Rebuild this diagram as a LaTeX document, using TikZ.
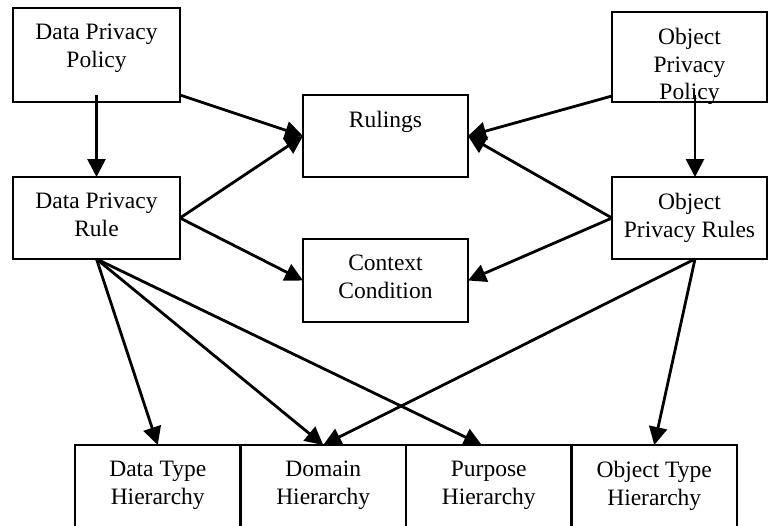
\documentclass[tikz,border=0pt]{standalone}
\usepackage{fontspec}
\setmainfont{Liberation Serif}
\usetikzlibrary{positioning, arrows.meta}

\begin{document}
\begin{tikzpicture}[x=1pt, y=-1pt]
% Styles
\tikzstyle{box} = [rectangle, draw=black, line width=2.8pt, outer sep=0pt, inner sep=0pt, minimum width=167pt, minimum height=82pt]
\tikzstyle{txt} = [anchor=north, yshift=-16pt, inner sep=0pt, align=center, font=\fontsize{23.5pt}{27.5pt}\selectfont]
\tikzstyle{arrow} = [line width=2.8pt, -{Triangle[length=18pt, width=18pt]}]

\useasboundingbox (0,0) rectangle (768,525);
\clip (0,0) rectangle (768,525);

\node (dpp) [box, minimum height=94pt, label={[txt]north:Data Privacy\\Policy}] at (96.5,55) {};
\node (dpr) [box, below=75pt of dpp, label={[txt]north:Data Privacy\\Rule}] {};
\node (rulings) [box, minimum width=165pt, above right=0pt and 123pt of dpr.north east, label={[txt]north:Rulings}] {};
\node (context) [box, minimum width=165pt, minimum height=83pt, below=62pt of rulings, label={[txt]north:Context\\Condition}] {};
\node (opr) [box, minimum width=155pt, below right=0pt and 144pt of rulings.south east, label={[txt]north:Object\\Privacy Rules}] {};
\node (opp) [box, minimum width=155pt, minimum height=90pt, above=75pt of opr, label={[txt]north:Object\\Privacy\\Policy}] {};

\node (datatype) [box, minimum width=165.5pt, minimum height=100pt, below right=186pt and 62pt of dpr.south west, label={[txt]north:Data Type\\Hierarchy}] {};
\node (domain) [box, minimum width=165.5pt, minimum height=100pt, right=0pt of datatype, label={[txt]north:Domain\\Hierarchy}] {};
\node (purpose) [box, minimum width=165.5pt, minimum height=100pt, right=0pt of domain, label={[txt]north:Purpose\\Hierarchy}] {};
\node (objtype) [box, minimum width=165.5pt, minimum height=100pt, right=0pt of purpose, label={[txt]north:Object Type\\Hierarchy}] {};

\draw [arrow] ([yshift=7pt]dpp.south) -- (dpr.north);
\draw [arrow] ([yshift=7pt]dpp.south east) -- (rulings.west);
\draw [arrow] (dpr.east) -- (rulings.west);
\draw [arrow] (dpr.east) -- (context.west);
\draw [arrow] ([yshift=6pt]opp.south west) -- (rulings.east);
\draw [arrow] ([xshift=5.5pt, yshift=7pt]opp.south) -- ([xshift=5.5pt]opr.north);
\draw [arrow] (opr.west) -- (rulings.east);
\draw [arrow] (opr.west) -- (context.east);

\draw [arrow] (dpr.south) -- (datatype.north);
\draw [arrow] (dpr.south) -- (domain.north);
\draw [arrow] (dpr.south) -- ([xshift=-7pt]purpose.north);
\draw [arrow] ([xshift=5.5pt]opr.south) -- (domain.north);
\draw [arrow] ([xshift=5.5pt]opr.south) -- (objtype.north);

\end{tikzpicture}
\end{document}
